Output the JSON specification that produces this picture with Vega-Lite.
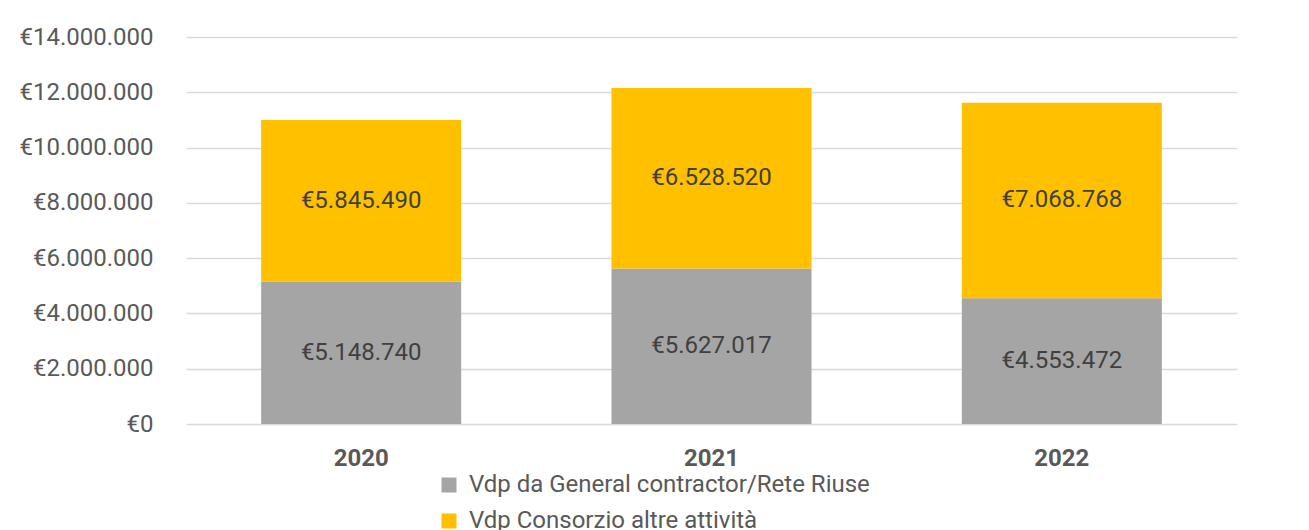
{
  "$schema": "https://vega.github.io/schema/vega-lite/v6.json",
  "width": 1051,
  "height": 387,
  "autosize": {"type": "none"},
  "padding": {"left": 186, "top": 37, "right": 72, "bottom": 106},
  "background": "white",
  "config": {
    "locale": {"number": {"decimal": ",", "thousands": ".", "grouping": [3], "currency": ["€", ""]}},
    "view": {"stroke": null},
    "font": "Roboto"
  },
  "data": {
    "values": [
      {"year": "2020", "series": "Vdp da General contractor/Rete Riuse", "order": 1, "value": 5148740},
      {"year": "2020", "series": "Vdp Consorzio altre attività", "order": 2, "value": 5845490},
      {"year": "2021", "series": "Vdp da General contractor/Rete Riuse", "order": 1, "value": 5627017},
      {"year": "2021", "series": "Vdp Consorzio altre attività", "order": 2, "value": 6528520},
      {"year": "2022", "series": "Vdp da General contractor/Rete Riuse", "order": 1, "value": 4553472},
      {"year": "2022", "series": "Vdp Consorzio altre attività", "order": 2, "value": 7068768}
    ]
  },
  "transform": [
    {"stack": "value", "groupby": ["year"], "sort": [{"field": "order", "order": "ascending"}], "as": ["v0", "v1"]},
    {"calculate": "(datum.v0 + datum.v1) / 2", "as": "mid"}
  ],
  "encoding": {
    "x": {
      "field": "year",
      "type": "nominal",
      "scale": {"paddingInner": 0.429, "paddingOuter": 0.2145},
      "axis": {
        "title": null,
        "labelAngle": 0,
        "labelFontWeight": "bold",
        "labelFontSize": 24,
        "labelColor": "#595959",
        "labelPadding": 22,
        "domain": false,
        "ticks": false
      }
    }
  },
  "layer": [
    {
      "mark": {"type": "bar"},
      "encoding": {
        "y": {
          "field": "v0",
          "type": "quantitative",
          "scale": {"domain": [0, 14000000], "nice": false},
          "axis": {
            "title": null,
            "values": [0, 2000000, 4000000, 6000000, 8000000, 10000000, 12000000, 14000000],
            "format": "$,.0f",
            "grid": true,
            "gridColor": "#d9d9d9",
            "gridWidth": 1.5,
            "domain": false,
            "ticks": false,
            "labelFontSize": 24,
            "labelColor": "#595959",
            "labelPadding": 33
          }
        },
        "y2": {"field": "v1"},
        "color": {
          "field": "series",
          "type": "nominal",
          "scale": {
            "domain": ["Vdp da General contractor/Rete Riuse", "Vdp Consorzio altre attività"],
            "range": ["#A5A5A5", "#FFC000"]
          },
          "legend": {
            "title": null,
            "orient": "none",
            "direction": "vertical",
            "legendX": 251,
            "legendY": 436,
            "symbolType": "square",
            "symbolSize": 225,
            "symbolStrokeWidth": 0,
            "labelFontSize": 24,
            "labelColor": "#595959",
            "labelOffset": 8,
            "rowPadding": 12,
            "labelLimit": 800
          }
        }
      }
    },
    {
      "mark": {"type": "text", "fontSize": 24, "color": "#404040"},
      "encoding": {
        "y": {"field": "mid", "type": "quantitative"},
        "text": {"field": "value", "type": "quantitative", "format": "$,.0f"}
      }
    }
  ]
}
